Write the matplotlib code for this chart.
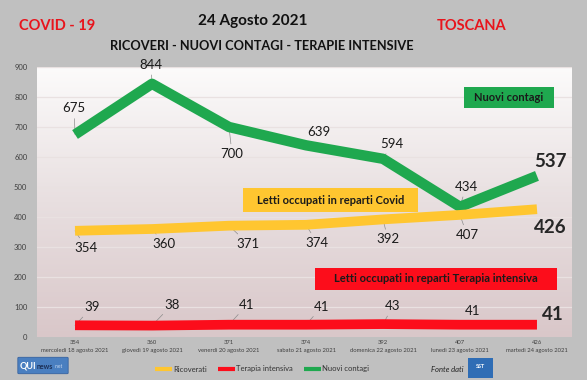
import numpy as np
import matplotlib
matplotlib.use("Agg")
import matplotlib.pyplot as plt
from matplotlib.colors import LinearSegmentedColormap
from matplotlib.patches import Rectangle, FancyBboxPatch

plt.rcParams['font.family'] = ['Lato', 'DejaVu Sans']

# data
dates = ['mercoledì 18 agosto 2021', 'giovedì 19 agosto 2021', 'venerdì 20 agosto 2021',
         'sabato 21 agosto 2021', 'domenica 22 agosto 2021', 'lunedì 23 agosto 2021',
         'martedì 24 agosto 2021']
ricoverati = [354, 360, 371, 374, 392, 407, 426]
terapia = [39, 38, 41, 41, 43, 41, 41]
contagi = [675, 844, 700, 639, 594, 434, 537]

# label offsets (pixels) from each point
off_contagi = [(-1, 26), (-1, 19), (3, -27), (13, 13), (9, 15), (6, 20), (13, 14)]
off_ricov = [(11, -17), (12, -15), (19, -18), (11, -18), (5, -20), (7, -20), (13, -18)]
off_terapia = [(17, 18), (20, 21), (18, 20), (16, 18), (10, 18), (13, 14), (16, 10)]

GREEN = '#1fa84f'
YELLOW = '#ffc630'
RED = '#fc0d1b'
BG = '#c0c0c0'

W, H = 587, 380
fig = plt.figure(figsize=(W / 100, H / 100), dpi=100, facecolor=BG)
ax = fig.add_axes([37 / W, 1 - 337 / H, (572 - 37) / W, 270 / H])
x = np.arange(len(dates))
xl = (-0.494, 6.455)

cmap = LinearSegmentedColormap.from_list('bg', ['#fcfbfb', '#e8dfe0', '#d9c7c9'])
ax.imshow(np.linspace(0, 1, 256)[:, None], extent=[xl[0], xl[1], 0, 900], aspect='auto',
          cmap=cmap, origin='upper', zorder=0)
for v in range(100, 901, 100):
    ax.axhline(v, color='#e9e1e1', lw=0.9, zorder=1)

l_con, = ax.plot(x, contagi, color=GREEN, lw=7.5, solid_capstyle='butt', zorder=3, label='Nuovi contagi')
l_ric, = ax.plot(x, ricoverati, color=YELLOW, lw=7, solid_capstyle='butt', zorder=3, label='Ricoverati')
l_ter, = ax.plot(x, terapia, color=RED, lw=7, solid_capstyle='butt', zorder=3, label='Terapia intensiva')


def labels(vals, offs):
    for i, (v, o) in enumerate(zip(vals, offs)):
        if i == len(vals) - 1:
            ax.annotate(str(v), (x[i], v), xytext=o, textcoords='offset pixels',
                        ha='center', va='center', fontsize=13.5, fontweight='bold',
                        color='#262626', zorder=4)
        else:
            ax.annotate(str(v), (x[i], v), xytext=o, textcoords='offset pixels',
                        ha='center', va='center', fontsize=9.5, color='#1a1a1a', zorder=2,
                        arrowprops=dict(arrowstyle='-', color='#8c8c8c', lw=0.5,
                                        shrinkA=1, shrinkB=0))


labels(contagi, off_contagi)
labels(ricoverati, off_ricov)
labels(terapia, off_terapia)

ax.set_xlim(*xl)
ax.set_ylim(0, 900)
ax.set_yticks(range(0, 901, 100))
ax.set_xticks(x)
ax.set_xticklabels([f'{r}\n{d}' for r, d in zip(ricoverati, dates)], fontsize=4.2,
                   color='#404040', linespacing=1.7)
ax.tick_params(axis='y', labelsize=5.5, labelcolor='#404040', length=0, pad=7)
ax.tick_params(axis='x', length=0, pad=2)
for s in ax.spines.values():
    s.set_visible(False)


# boxed series names
def box(cx, cy, text, fc, w, h):
    fig.patches.append(Rectangle(((cx - w / 2) / W, 1 - (cy + h / 2) / H), w / W, h / H,
                                 transform=fig.transFigure, fc=fc, ec='none', zorder=5))
    fig.text(cx / W, 1 - cy / H, text, ha='center', va='center', fontsize=8,
             fontweight='bold', color='#1a1a1a', zorder=6)


box(509, 97.5, 'Nuovi contagi', GREEN, 90, 21)
box(330.5, 200, 'Letti occupati in reparti Covid', YELLOW, 175, 24)
box(436, 279, 'Letti occupati in reparti Terapia intensiva', RED, 242, 22)

# titles
fig.text(57 / W, 1 - 26 / H, 'COVID - 19', ha='center', va='center', fontsize=10.5,
         fontweight='bold', color='#e8141c')
fig.text(472 / W, 1 - 26 / H, 'TOSCANA', ha='center', va='center', fontsize=10.5,
         fontweight='bold', color='#e8141c')
fig.text(253 / W, 1 - 21 / H, '24 Agosto 2021', ha='center', va='center', fontsize=11,
         fontweight='bold', color='#111111')
fig.text(262 / W, 1 - 46 / H, 'RICOVERI - NUOVI CONTAGI - TERAPIE INTENSIVE', ha='center',
         va='center', fontsize=9.2, fontweight='bold', color='#111111')

# legend
hs = [l_ric, l_ter, l_con]
leg = fig.legend(hs, [l.get_label() for l in hs], loc='center', bbox_to_anchor=(262 / W, 1 - 369 / H),
                 ncol=3, frameon=False, fontsize=5.5, handlelength=2.2, handletextpad=0.1,
                 columnspacing=1.5, labelcolor='#333333')
for lh in leg.legend_handles:
    lh.set_linewidth(3)

# logos
fig.patches.append(FancyBboxPatch((19 / W, 1 - 373 / H), 48 / W, 15 / H, boxstyle='round,pad=0.002',
                                  transform=fig.transFigure, fc='#4a7fc0', ec='#2d5a9a', lw=0.5))
t1 = fig.text(20 / W, 1 - 366 / H, 'QUI', ha='left', va='center', fontsize=6.5, fontweight='bold', color='white')
fig.canvas.draw()
r = fig.canvas.get_renderer()
x1 = t1.get_window_extent(r).x1 + 0.5
t2 = fig.text(x1 / W, 1 - 366.5 / H, 'news', ha='left', va='center', fontsize=5, fontweight='bold', color='#1c2f55')
x2 = t2.get_window_extent(r).x1 + 1
fig.text(x2 / W, 1 - 367 / H, '.net', ha='left', va='center', fontsize=3.5, color='#c8d8ee')
fig.text(447 / W, 1 - 369 / H, 'Fonte dati', ha='center', va='center', fontsize=5.5,
         style='italic', color='#222222')
fig.patches.append(Rectangle((468 / W, 1 - 378 / H), 25 / W, 20 / H, transform=fig.transFigure,
                             fc='#2f6db5', ec='none'))
fig.text(480 / W, 1 - 366 / H, 'SST', ha='center', va='center', fontsize=4, fontweight='bold', color='white')

fig.savefig('out.png', dpi=100, facecolor=BG)
